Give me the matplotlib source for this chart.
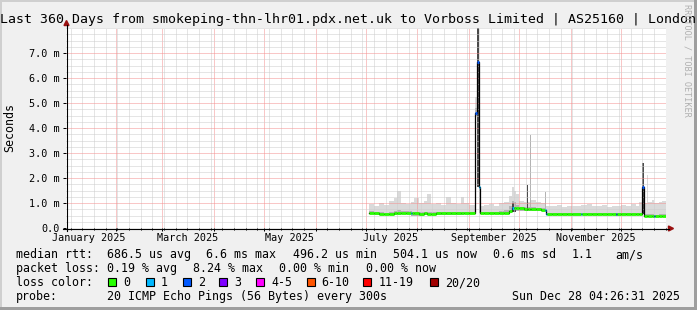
import matplotlib
matplotlib.use("Agg")
import matplotlib.pyplot as plt
import matplotlib.dates as mdates
from matplotlib.ticker import MultipleLocator, FixedLocator, FuncFormatter, NullFormatter
from matplotlib.patches import Rectangle, Polygon
from matplotlib.lines import Line2D
import numpy as np
import pandas as pd

# ---------------- data ----------------
title = "Last 360 Days from smokeping-thn-lhr01.pdx.net.uk to Vorboss Limited | AS25160 | London"
window_end = "2025-12-28 04:26:31"
window_days = 360

sample_times = [
    "2025-07-03 00:00", "2025-07-06 00:00", "2025-07-09 00:00", "2025-07-12 00:00",
    "2025-07-15 00:00", "2025-07-18 00:00", "2025-07-20 00:00", "2025-07-22 00:00",
    "2025-07-25 00:00", "2025-07-28 00:00", "2025-07-28 18:00", "2025-07-30 00:00",
    "2025-08-02 00:00", "2025-08-05 00:00", "2025-08-07 00:00", "2025-08-09 00:00",
    "2025-08-12 00:00", "2025-08-15 00:00", "2025-08-18 00:00", "2025-08-21 00:00",
    "2025-08-24 00:00", "2025-08-27 00:00", "2025-08-29 00:00", "2025-09-01 00:00",
    "2025-09-04 12:00", "2025-09-06 00:00", "2025-09-07 00:00", "2025-09-07 12:00",
    "2025-09-10 00:00", "2025-09-13 00:00", "2025-09-16 00:00", "2025-09-19 00:00",
    "2025-09-22 00:00", "2025-09-25 00:00", "2025-09-27 00:00", "2025-09-27 18:00",
    "2025-09-29 00:00", "2025-10-01 00:00", "2025-10-04 00:00", "2025-10-05 12:00",
    "2025-10-06 12:00", "2025-10-07 12:00", "2025-10-08 06:00", "2025-10-11 00:00",
    "2025-10-14 00:00", "2025-10-16 12:00", "2025-10-17 06:00", "2025-10-18 00:00",
    "2025-10-21 00:00", "2025-10-24 00:00", "2025-10-27 00:00", "2025-10-30 00:00",
    "2025-11-02 00:00", "2025-11-07 00:00", "2025-11-07 18:00", "2025-11-11 00:00",
    "2025-11-14 00:00", "2025-11-17 00:00", "2025-11-20 00:00", "2025-11-23 00:00",
    "2025-11-26 00:00", "2025-11-28 00:00", "2025-11-28 18:00", "2025-12-01 00:00",
    "2025-12-04 00:00", "2025-12-07 00:00", "2025-12-10 00:00", "2025-12-12 00:00",
    "2025-12-14 00:00", "2025-12-15 06:00", "2025-12-17 00:00", "2025-12-17 16:00",
    "2025-12-20 00:00", "2025-12-21 00:00", "2025-12-21 18:00", "2025-12-24 00:00",
    "2025-12-26 00:00",
]

# median rtt (ms)
median_ms = [
    0.62, 0.60, 0.57, 0.56, 0.58, 0.60, 0.60, 0.61,
    0.62, 0.60, 0.60, 0.59, 0.58, 0.59, 0.58, 0.58,
    0.59, 0.59, 0.60, 0.59, 0.59, 0.60, 0.60, 0.61,
    4.60, 6.65, 1.65, 0.60, 0.60, 0.61, 0.60, 0.61,
    0.62, 0.70, 0.80, 0.80, 0.80, 0.79, 0.78, 0.78,
    0.78, 0.77, 0.77, 0.76, 0.74, 0.73, 0.57, 0.57,
    0.57, 0.56, 0.56, 0.56, 0.56, 0.56, 0.56, 0.56,
    0.57, 0.56, 0.56, 0.56, 0.56, 0.55, 0.55, 0.56,
    0.56, 0.56, 0.56, 0.56, 1.65, 0.50, 0.49, 0.49,
    0.49, 0.48, 0.48, 0.49, 0.50,
]

# loss category index (0 -> "0", 1 -> "1", 2 -> "2", ...)
loss_cat = [
    0, 0, 0, 0, 0, 0, 0, 0,
    0, 1, 0, 0, 0, 0, 0, 0,
    0, 0, 0, 0, 0, 0, 0, 0,
    2, 2, 1, 0, 0, 0, 0, 0,
    0, 0, 1, 0, 0, 0, 0, 0,
    0, 0, 0, 0, 0, 1, 1, 0,
    0, 0, 0, 0, 0, 1, 0, 0,
    0, 0, 0, 0, 0, 2, 0, 0,
    0, 0, 0, 0, 2, 0, 0, 0,
    0, 2, 0, 0, 0,
]

# smoke: lowest ping, top of medium band, top of dark band, highest ping (ms)
smoke_lo = [
    0.55, 0.54, 0.52, 0.51, 0.52, 0.54, 0.54, 0.55,
    0.56, 0.50, 0.50, 0.50, 0.50, 0.51, 0.51, 0.52,
    0.53, 0.53, 0.54, 0.54, 0.54, 0.54, 0.55, 0.55,
    4.50, 1.65, 0.60, 0.55, 0.55, 0.55, 0.55, 0.56,
    0.56, 0.60, 0.66, 0.66, 0.70, 0.70, 0.70, 0.70,
    0.70, 0.70, 0.70, 0.69, 0.68, 0.66, 0.52, 0.52,
    0.52, 0.51, 0.51, 0.51, 0.51, 0.51, 0.51, 0.51,
    0.52, 0.51, 0.51, 0.51, 0.51, 0.50, 0.50, 0.51,
    0.51, 0.51, 0.51, 0.51, 0.55, 0.46, 0.45, 0.45,
    0.45, 0.44, 0.44, 0.45, 0.46,
]
smoke_mid = [
    0.68, 0.66, 0.63, 0.62, 0.65, 0.68, 0.72, 0.68,
    0.70, 0.68, 0.66, 0.64, 0.63, 0.64, 0.64, 0.63,
    0.64, 0.64, 0.65, 0.64, 0.65, 0.66, 0.66, 0.66,
    4.80, 8.50, 2.50, 0.65, 0.65, 0.66, 0.65, 0.67,
    0.72, 0.90, 1.10, 1.05, 0.92, 0.86, 0.85, 1.00,
    0.85, 3.72, 0.84, 0.82, 0.80, 1.45, 0.62, 0.62,
    0.62, 0.61, 0.61, 0.61, 0.61, 0.61, 0.61, 0.61,
    0.62, 0.61, 0.61, 0.61, 0.61, 0.60, 0.60, 0.61,
    0.61, 0.61, 0.61, 0.62, 2.59, 0.56, 0.55, 0.55,
    0.55, 0.54, 0.54, 0.55, 0.56,
]
smoke_dark = [
    0.55, 0.54, 0.52, 0.51, 0.52, 0.54, 0.54, 0.55,
    0.56, 0.50, 0.50, 0.50, 0.50, 0.51, 0.51, 0.52,
    0.53, 0.53, 0.54, 0.54, 0.54, 0.54, 0.55, 0.55,
    4.50, 8.50, 0.60, 0.55, 0.55, 0.55, 0.55, 0.56,
    0.56, 0.60, 1.00, 0.85, 0.70, 0.70, 0.70, 1.72,
    0.70, 0.70, 0.70, 0.69, 0.68, 0.66, 0.52, 0.52,
    0.52, 0.51, 0.51, 0.51, 0.51, 0.51, 0.51, 0.51,
    0.52, 0.51, 0.51, 0.51, 0.51, 0.50, 0.50, 0.51,
    0.51, 0.51, 0.51, 0.51, 2.59, 0.46, 0.45, 0.45,
    0.45, 0.44, 0.44, 0.45, 0.46,
]
smoke_hi = [
    0.95, 0.88, 1.00, 0.92, 1.08, 1.22, 1.50, 1.02,
    0.95, 1.05, 1.05, 1.19, 1.00, 1.10, 1.36, 0.96,
    1.02, 0.92, 1.25, 1.00, 0.95, 1.24, 1.00, 0.92,
    5.25, 8.50, 3.50, 0.90, 0.92, 0.95, 0.90, 1.00,
    1.05, 1.30, 1.65, 1.50, 1.35, 1.10, 1.05, 1.72,
    1.05, 3.72, 1.12, 1.05, 1.00, 1.45, 0.90, 0.90,
    0.88, 0.92, 0.85, 0.90, 0.88, 0.92, 0.92, 0.95,
    0.88, 0.90, 0.92, 0.85, 0.90, 0.88, 0.88, 0.92,
    0.90, 0.95, 0.88, 1.05, 2.59, 1.00, 2.12, 1.05,
    1.12, 1.00, 1.00, 1.05, 1.10,
]

y_ticks = [0, 1, 2, 3, 4, 5, 6, 7]
y_max = 8
month_label_dates = ["2025-01-16", "2025-03-16", "2025-05-16",
                     "2025-07-16", "2025-09-16", "2025-11-16"]
month_labels = ["January 2025", "March 2025", "May 2025",
                "July 2025", "September 2025", "November 2025"]

loss_labels = ["0", "1", "2", "3", "4-5", "6-10", "11-19", "20/20"]
loss_colors = ["#26ff00", "#00b8ff", "#0059ff", "#7e00ff",
               "#ff00ff", "#ff5500", "#ff0000", "#a00000"]

median_stats = ["686.5 us avg", "6.6 ms max", "496.2 us min",
                "504.1 us now", "0.6 ms sd", "1.1", "am/s"]
loss_stats = ["0.19 % avg", "8.24 % max", "0.00 % min", "0.00 % now"]
probe_text = "20 ICMP Echo Pings (56 Bytes) every 300s"
stamp_text = "Sun Dec 28 04:26:31 2025"

n = len(sample_times)
for arr in (median_ms, loss_cat, smoke_lo, smoke_mid, smoke_dark, smoke_hi):
    assert len(arr) == n

# ---------------- figure ----------------
W, H = 697, 310
MONO = "DejaVu Sans Mono"
plt.rcParams["font.family"] = [MONO]

fig = plt.figure(figsize=(W / 100, H / 100), dpi=100, facecolor="#f0f0f0")


def fx(x):
    return x / W


def fy(y):
    return 1 - y / H


ax = fig.add_axes([fx(66), fy(228), 600 / W, 200 / H])
ax.set_facecolor("white")

end = pd.Timestamp(window_end)
start = end - pd.Timedelta(days=window_days)
t = mdates.date2num(pd.to_datetime(sample_times).to_numpy())
t_end = mdates.date2num(end.to_datetime64())
t_ext = np.append(t, t_end)


def ext(a):
    a = np.asarray(a, dtype=float)
    return np.append(a, a[-1])


lo, mid, dark, hi, med = map(ext, (smoke_lo, smoke_mid, smoke_dark, smoke_hi, median_ms))

ax.fill_between(t_ext, lo, hi, step="post", color="#dadada", lw=0, zorder=1)
ax.fill_between(t_ext, lo, mid, step="post", color="#b3b3b3", lw=0, zorder=1.1)
ax.fill_between(t_ext, lo, dark, step="post", color="#4a4a4a", lw=0, zorder=1.2)

ax.step(t_ext, med, where="post", color="black", lw=0.9, zorder=3)
ax.hlines(median_ms, t_ext[:-1], t_ext[1:],
          colors=[loss_colors[k] for k in loss_cat], lw=2.0, zorder=4,
          capstyle="butt")

ax.set_xlim(mdates.date2num(start.to_datetime64()), t_end)
ax.set_ylim(0, y_max)

ax.xaxis.set_major_locator(mdates.MonthLocator())
ax.xaxis.set_minor_locator(mdates.WeekdayLocator(byweekday=mdates.SU))
ax.xaxis.set_major_formatter(NullFormatter())
ax.xaxis.set_minor_formatter(NullFormatter())
ax.yaxis.set_major_locator(FixedLocator(y_ticks))
ax.yaxis.set_minor_locator(MultipleLocator(0.25))
ax.yaxis.set_major_formatter(FuncFormatter(lambda v, p: "0.0" if v == 0 else f"{v:.1f} m"))

ax.set_axisbelow(False)
ax.grid(which="minor", color="#cdcdcd", ls=(0, (1, 1)), lw=0.72)
ax.grid(which="major", color="#f59090", ls=(0, (1, 1)), lw=0.72)

for s in ax.spines.values():
    s.set_visible(False)

ax.tick_params(axis="y", which="major", direction="out", length=2.2, width=0.72,
               pad=2.5, labelsize=7.3, colors="black")
ax.tick_params(axis="y", which="minor", length=0)
ax.tick_params(axis="x", which="major", direction="out", length=2.2, width=0.72)
ax.tick_params(axis="x", which="minor", direction="out", length=1.4, width=0.72)
for lab in ax.get_yticklabels():
    lab.set_family(MONO)

# month labels
xlab_tr = ax.get_xaxis_transform()
for d, lab in zip(month_label_dates, month_labels):
    ax.text(mdates.date2num(pd.Timestamp(d).to_datetime64()), -12.7 / 200, lab,
            transform=xlab_tr, ha="center", va="baseline", fontsize=7.3,
            family=MONO, color="black", clip_on=False)

# axis lines and arrows
fig.add_artist(Line2D([fx(66.5), fx(66.5)], [fy(231), fy(25)], color="black", lw=0.8))
fig.add_artist(Line2D([fx(63), fx(669)], [fy(228.5), fy(228.5)], color="black", lw=0.8))
arrow_c = "#9a1010"
fig.add_artist(Polygon([(fx(64), fy(25.5)), (fx(69), fy(25.5)), (fx(66.5), fy(20.5))],
                       closed=True, color=arrow_c, transform=fig.transFigure))
fig.add_artist(Polygon([(fx(668.5), fy(226)), (fx(668.5), fy(231)), (fx(673.5), fy(228.5))],
                       closed=True, color=arrow_c, transform=fig.transFigure))

# title, axis label, watermark
fig.text(fx(348.5), fy(23.3), title, ha="center", va="baseline", fontsize=9.57,
         family=MONO, color="black")
fig.text(fx(10), fy(128), "Seconds", rotation=90, ha="center", va="center",
         fontsize=8.4, family=MONO, color="black")
fig.text(fx(687.5), fy(4), "RRDTOOL / TOBI OETIKER", rotation=270, ha="center",
         va="top", fontsize=6.1, family=MONO, color="#b0b0b0")

# legend rows
LS = 8.4
row_base = [258.3, 272.3, 286.3, 300.3]
col_x = 16
fig.text(fx(col_x), fy(row_base[0]), "median rtt:", fontsize=LS, va="baseline", family=MONO)
for s, x in zip(median_stats, [107.3, 206, 293, 393.3, 493.3, 571.7, 615]):
    fig.text(fx(x), fy(row_base[0]), s, fontsize=LS, va="baseline", family=MONO)

fig.text(fx(col_x), fy(row_base[1]), "packet loss:", fontsize=LS, va="baseline", family=MONO)
for s, x in zip(loss_stats, [107.3, 193.3, 279.3, 366.3]):
    fig.text(fx(x), fy(row_base[1]), s, fontsize=LS, va="baseline", family=MONO)

fig.text(fx(col_x), fy(row_base[2]), "loss color:", fontsize=LS, va="baseline", family=MONO)
box_x = [108.3, 145.7, 182.7, 219.3, 256, 306.7, 363.3, 430]
for lab, c, bx in zip(loss_labels, loss_colors, box_x):
    fig.add_artist(Rectangle((fx(bx), fy(286)), 8 / W, 8 / H, facecolor=c,
                             edgecolor="black", lw=0.8, transform=fig.transFigure))
    fig.text(fx(bx + 15), fy(row_base[2]), lab, fontsize=LS, va="baseline", family=MONO)

fig.text(fx(col_x), fy(row_base[3]), "probe:", fontsize=LS, va="baseline", family=MONO)
fig.text(fx(107.3), fy(row_base[3]), probe_text, fontsize=LS, va="baseline", family=MONO)
fig.text(fx(680.5), fy(row_base[3]), stamp_text, fontsize=LS, va="baseline",
         ha="right", family=MONO)

# 3D frame
fig.add_artist(Rectangle((0, fy(2)), 1, 2 / H, color="#cfcfcf", lw=0, transform=fig.transFigure))
fig.add_artist(Rectangle((0, 0), 2 / W, 1, color="#cfcfcf", lw=0, transform=fig.transFigure))
fig.add_artist(Rectangle((0, 0), 1, 3 / H, color="#9e9e9e", lw=0, transform=fig.transFigure))
fig.add_artist(Rectangle((fx(694), 0), 3 / W, 1, color="#9e9e9e", lw=0, transform=fig.transFigure))

fig.savefig("out.png", dpi=100, facecolor=fig.get_facecolor())
